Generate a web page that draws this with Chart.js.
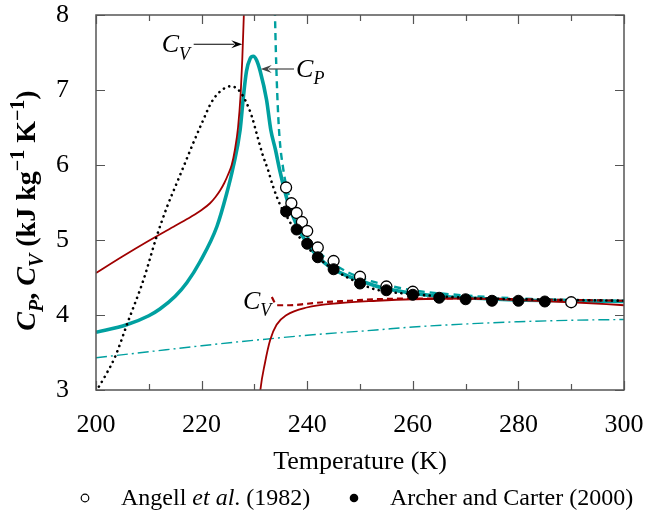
<!DOCTYPE html>
<html>
<head>
<meta charset="utf-8">
<script src="https://cdn.jsdelivr.net/npm/chart.js@4.4.1/dist/chart.umd.min.js"></script>
<style>
html,body{margin:0;padding:0;background:#fff;}
#wrap{width:668px;height:512px;position:relative;}
</style>
</head>
<body>
<div id="wrap"><canvas id="c" width="668" height="512"></canvas></div>
<script>
// ---------- data ----------
const xTicks = [200, 220, 240, 260, 280, 300];
const yTicks = [3, 4, 5, 6, 7, 8];

// C_V, left branch (solid dark red)
const cvLeftT = [200, 205, 210, 215, 218, 220, 221.6, 222.6, 223.5, 224.3, 225, 225.7, 226.3, 226.9, 227.4, 227.7, 228.0, 228.2];
const cvLeftV = [4.56, 4.78, 4.99, 5.19, 5.31, 5.40, 5.49, 5.57, 5.66, 5.76, 5.87, 6.0, 6.2, 6.5, 6.95, 7.4, 8.0, 8.4];
// C_V, right branch (solid dark red)
const cvRightT = [230.9, 231.1, 232, 233, 234.2, 236.1, 239.9, 246.2, 253.2, 260, 270, 280, 290, 300];
const cvRightV = [2.8, 2.98, 3.36, 3.67, 3.87, 4.0, 4.10, 4.16, 4.19, 4.21, 4.22, 4.2, 4.17, 4.13];
// C_V (dashed dark red)
const cvDashT = [233.3, 233.8, 234.3, 236.7, 240, 243, 248, 253, 260, 270, 280, 290, 300];
const cvDashV = [4.24, 4.17, 4.13, 4.13, 4.15, 4.17, 4.19, 4.21, 4.22, 4.22, 4.21, 4.2, 4.19];
// C_P (thick solid teal)
const cpT = [200, 205.8, 210, 212.1, 215, 217.2, 219.7, 222.9, 224.75, 226, 227.3, 227.9, 228.5, 229.2, 229.8, 230.4, 231.1, 232.3, 233.1, 234, 234.8, 236.4, 238, 239.9, 242, 244.3, 247, 250, 253.8, 260, 265, 270, 280, 290, 300];
const cpV = [3.77, 3.87, 3.99, 4.08, 4.25, 4.43, 4.71, 5.18, 5.62, 5.98, 6.47, 6.9, 7.25, 7.42, 7.45, 7.4, 7.25, 6.87, 6.47, 6.2, 5.93, 5.49, 5.2, 4.96, 4.78, 4.64, 4.54, 4.46, 4.37, 4.29, 4.25, 4.23, 4.2, 4.19, 4.18];
// C_P (dashed teal)
const cpDashT = [233.8, 233.9, 234.2, 234.66, 235.5, 236.5, 238, 240, 242, 245, 250, 255, 260, 270, 280, 290, 300];
const cpDashV = [8.4, 8.0, 7.2, 6.47, 5.93, 5.6, 5.3, 5.05, 4.86, 4.68, 4.5, 4.4, 4.33, 4.26, 4.22, 4.2, 4.19];
// dotted black curve
const dotT = [200, 202, 203.6, 206, 209, 211.5, 213.5, 215.3, 217, 218.4, 220, 221.9, 223.5, 225.5, 227, 228.3, 229.5, 230.5, 231.5, 232.6, 233.5, 235, 236, 238, 240.5, 244.3, 250, 253, 261.4, 270, 280, 290, 300];
const dotV = [2.98, 3.22, 3.44, 3.9, 4.47, 5.05, 5.45, 5.76, 6.05, 6.29, 6.55, 6.84, 6.98, 7.05, 7.0, 6.86, 6.65, 6.4, 6.15, 5.93, 5.72, 5.45, 5.33, 5.09, 4.87, 4.64, 4.42, 4.34, 4.27, 4.23, 4.21, 4.2, 4.19];
// dash-dot teal
const ddT = [200, 210, 220, 227.3, 231, 240, 253, 260, 270, 280, 290, 300];
const ddV = [3.43, 3.51, 3.59, 3.645, 3.67, 3.73, 3.80, 3.84, 3.88, 3.91, 3.93, 3.94];
// Angell et al. (1982) - open circles
const angellT = [236, 237, 238, 239, 240, 242, 245, 250, 255, 260, 290];
const angellV = [5.70, 5.49, 5.36, 5.24, 5.12, 4.90, 4.72, 4.51, 4.38, 4.31, 4.17];
// Archer and Carter (2000) - filled circles
const archerT = [236, 238, 240, 242, 245, 250, 255, 260, 265, 270, 275, 280, 285];
const archerV = [5.38, 5.14, 4.95, 4.77, 4.61, 4.42, 4.33, 4.27, 4.23, 4.21, 4.19, 4.19, 4.18];

// ---------- helpers ----------
const zip = (xs, ys) => xs.map((x, i) => ({x: x, y: ys[i]}));
const RED = '#a00000', TEAL = '#00a0a0';
const SERIF = '"Liberation Serif", "DejaVu Serif", serif';

function lineDs(label, xs, ys, color, width, dash, order, extra) {
  return Object.assign({
    label: label, data: zip(xs, ys), showLine: true, pointRadius: 0, pointHoverRadius: 0,
    borderColor: color, backgroundColor: color, borderWidth: width, borderDash: dash || [],
    fill: false, cubicInterpolationMode: 'monotone', order: order
  }, extra || {});
}

function drawRich(ctx, parts, x, y, align, size) {
  const sub = Math.round(size * 0.7);
  let total = 0;
  const fontOf = p => (p.b ? 'bold ' : '') + (p.i ? 'italic ' : '') + ((p.sub || p.sup) ? sub : size) + 'px ' + SERIF;
  parts.forEach(p => { ctx.font = fontOf(p); p.w = ctx.measureText(p.t).width; total += p.w; });
  let cx = align === 'center' ? x - total / 2 : (align === 'right' ? x - total : x);
  ctx.textAlign = 'left';
  ctx.textBaseline = 'alphabetic';
  parts.forEach(p => {
    ctx.font = fontOf(p);
    let dy = 0;
    if (p.sub) dy = size * 0.28;
    if (p.sup) dy = -size * 0.38;
    ctx.fillText(p.t, cx, y + dy);
    cx += p.w;
  });
}

function arrow(ctx, x1, y1, x2, y2, color) {
  ctx.save();
  ctx.strokeStyle = color; ctx.fillStyle = color; ctx.lineWidth = 1.2;
  const ang = Math.atan2(y2 - y1, x2 - x1);
  const L = 11, W = 4;
  const bx = x2 - L * Math.cos(ang), by = y2 - L * Math.sin(ang);
  ctx.beginPath(); ctx.moveTo(x1, y1); ctx.lineTo(bx + 3 * Math.cos(ang), by + 3 * Math.sin(ang)); ctx.stroke();
  ctx.beginPath();
  ctx.moveTo(x2, y2);
  ctx.lineTo(bx - W * Math.sin(ang), by + W * Math.cos(ang));
  ctx.lineTo(bx + 4 * Math.cos(ang), by + 4 * Math.sin(ang));
  ctx.lineTo(bx + W * Math.sin(ang), by - W * Math.cos(ang));
  ctx.closePath(); ctx.fill();
  ctx.restore();
}

const decor = {
  id: 'decor',
  afterDraw(chart) {
    const ctx = chart.ctx, a = chart.chartArea;
    const xs = chart.scales.x, ys = chart.scales.y;
    ctx.save();
    // frame
    ctx.strokeStyle = '#555'; ctx.lineWidth = 1.5;
    ctx.strokeRect(a.left, a.top, a.right - a.left, a.bottom - a.top);
    // x ticks (major every 20, minor every 10), bottom and top, inward
    ctx.lineWidth = 1.2;
    for (let t = 200; t <= 300; t += 10) {
      const px = Math.round(xs.getPixelForValue(t)) + 0.5;
      const len = (t % 20 === 0) ? 9 : 6;
      ctx.beginPath();
      ctx.moveTo(px, a.bottom); ctx.lineTo(px, a.bottom - len);
      ctx.moveTo(px, a.top); ctx.lineTo(px, a.top + len);
      ctx.stroke();
    }
    // y ticks left and right
    yTicks.forEach(v => {
      const py = Math.round(ys.getPixelForValue(v)) + 0.5;
      ctx.beginPath();
      ctx.moveTo(a.left, py); ctx.lineTo(a.left + 9, py);
      ctx.moveTo(a.right, py); ctx.lineTo(a.right - 9, py);
      ctx.stroke();
    });

    ctx.fillStyle = '#000';
    // x axis title
    ctx.font = '26px ' + SERIF; ctx.textAlign = 'center'; ctx.textBaseline = 'alphabetic';
    ctx.fillText('Temperature (K)', (a.left + a.right) / 2, 469);

    // y axis title (rotated)
    ctx.save();
    ctx.translate(26, (a.top + a.bottom) / 2 + 8);
    ctx.rotate(-Math.PI / 2);
    drawRich(ctx, [
      {t: 'C', i: 1, b: 1}, {t: 'P', i: 1, sub: 1, b: 1}, {t: ', ', b: 1},
      {t: 'C', i: 1, b: 1}, {t: 'V', i: 1, sub: 1, b: 1}, {t: ' (kJ kg', b: 1},
      {t: '\u22121', sup: 1, b: 1}, {t: ' K', b: 1}, {t: '\u22121', sup: 1, b: 1}, {t: ')', b: 1}
    ], 0, 9, 'center', 28);
    ctx.restore();

    // annotations
    const X = v => xs.getPixelForValue(v), Y = v => ys.getPixelForValue(v);
    drawRich(ctx, [{t: 'C', i: 1}, {t: 'V', i: 1, sub: 1}], X(217.8), Y(7.61) + 8, 'right', 26);
    arrow(ctx, X(218.5), Y(7.61), X(227.7), Y(7.61), '#000');
    drawRich(ctx, [{t: 'C', i: 1}, {t: 'P', i: 1, sub: 1}], X(237.9), Y(7.28) + 8, 'left', 26);
    arrow(ctx, X(237.5), Y(7.28), X(231.2), Y(7.28), '#444');
    drawRich(ctx, [{t: 'C', i: 1}, {t: 'V', i: 1, sub: 1}], X(233.2), Y(4.20) + 9, 'right', 26);

    // legend
    ctx.strokeStyle = '#000'; ctx.lineWidth = 1.2;
    ctx.beginPath(); ctx.arc(85, 498, 3.8, 0, Math.PI * 2); ctx.fillStyle = '#fff'; ctx.fill(); ctx.stroke();
    ctx.fillStyle = '#000';
    drawRich(ctx, [{t: 'Angell '}, {t: 'et al', i: 1}, {t: '. (1982)'}], 121, 505, 'left', 24);
    ctx.beginPath(); ctx.arc(354, 498, 4.3, 0, Math.PI * 2); ctx.fill();
    drawRich(ctx, [{t: 'Archer and Carter (2000)'}], 390, 505, 'left', 24);
    ctx.restore();
  }
};

const chart = new Chart(document.getElementById('c'), {
  type: 'scatter',
  data: {
    datasets: [
      {label: 'Archer and Carter (2000)', data: zip(archerT, archerV), pointRadius: 5.5, pointHoverRadius: 5.5,
       backgroundColor: '#000', borderColor: '#000', borderWidth: 1, showLine: false, order: 0},
      {label: 'Angell et al. (1982)', data: zip(angellT, angellV), pointRadius: 5.5, pointHoverRadius: 5.5,
       backgroundColor: '#fff', borderColor: '#000', borderWidth: 1.3, showLine: false, order: 1},
      lineDs('dotted', dotT, dotV, '#000', 2.6, [0.1, 5.6], 2, {borderCapStyle: 'round'}),
      lineDs('CV dashed', cvDashT, cvDashV, RED, 2.2, [6, 4], 3),
      lineDs('CP dashed', cpDashT, cpDashV, TEAL, 2.4, [7, 5], 4),
      lineDs('CV left', cvLeftT, cvLeftV, RED, 1.8, [], 5),
      lineDs('CV right', cvRightT, cvRightV, RED, 1.8, [], 6),
      lineDs('CP', cpT, cpV, TEAL, 3.6, [], 7),
      lineDs('dash-dot', ddT, ddV, TEAL, 1.4, [11, 4, 2, 4], 8)
    ]
  },
  options: {
    responsive: false,
    animation: false,
    events: [],
    layout: {padding: {left: 0, right: 44, top: 15, bottom: 0}},
    plugins: {legend: {display: false}, tooltip: {enabled: false}},
    scales: {
      x: {
        type: 'linear', min: 200, max: 300,
        grid: {display: false}, border: {display: false},
        afterBuildTicks: s => { s.ticks = xTicks.map(v => ({value: v})); },
        ticks: {color: '#000', font: {family: SERIF, size: 26}, padding: 12, maxRotation: 0},
        afterFit: s => { s.height = 122; s.paddingLeft = 0; s.paddingRight = 0; }
      },
      y: {
        type: 'linear', min: 3, max: 8,
        grid: {display: false}, border: {display: false},
        afterBuildTicks: s => { s.ticks = yTicks.map(v => ({value: v})); },
        ticks: {color: '#000', font: {family: SERIF, size: 26}, padding: 19},
        afterFit: s => { s.width = 96; s.paddingTop = 0; s.paddingBottom = 0; }
      }
    }
  },
  plugins: [decor]
});
</script>
</body>
</html>
